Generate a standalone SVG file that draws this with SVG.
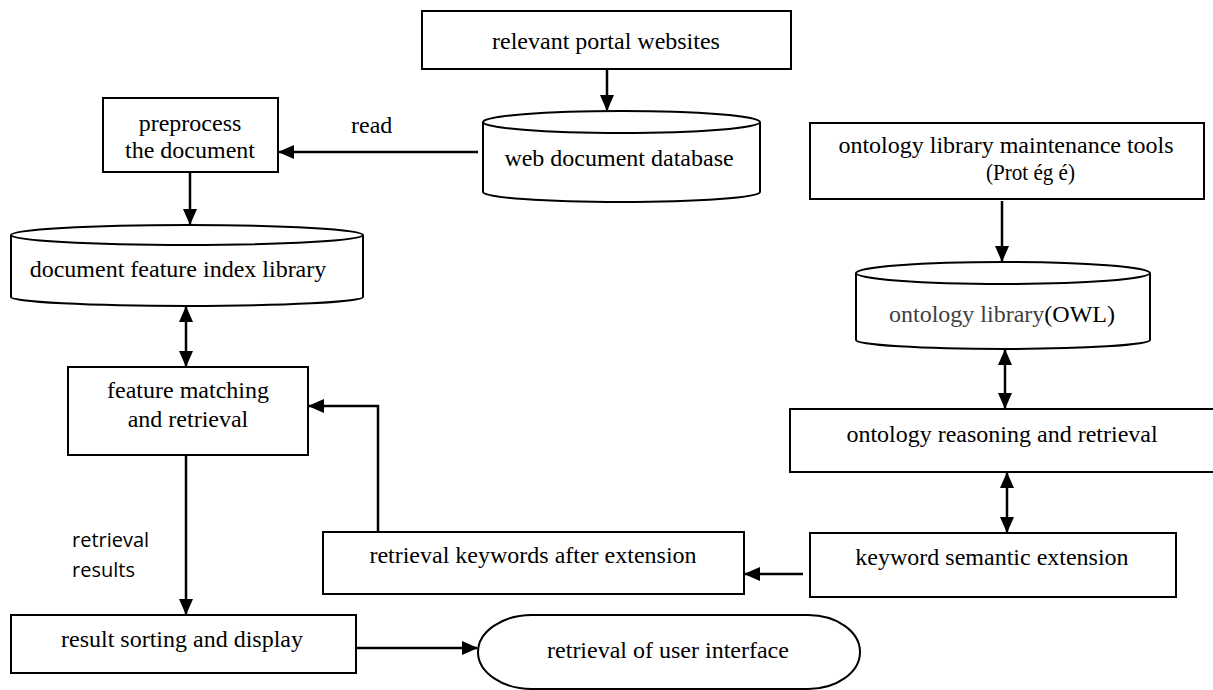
<svg xmlns="http://www.w3.org/2000/svg" width="1213" height="690" viewBox="0 0 1213 690">
<style>
.box{fill:#fff;stroke:#000;stroke-width:2}
.t{font-family:"Liberation Serif","Times New Roman",serif;font-size:24px;fill:#000}
.c{text-anchor:middle}
.s{font-family:"Open Sans","Liberation Sans",sans-serif;font-size:20px;fill:#000}
.ln{fill:none;stroke:#000;stroke-width:2.5}
</style>
<defs>
<marker id="ah" viewBox="0 0 16 14" refX="15" refY="7" markerWidth="16" markerHeight="14" markerUnits="userSpaceOnUse" orient="auto-start-reverse">
<path d="M0,0 L16,7 L0,14 Z" fill="#000"/>
</marker>
</defs>
<rect width="1213" height="690" fill="#fff"/>

<g id="connectors">
<line class="ln" x1="607" y1="69" x2="607" y2="110" marker-end="url(#ah)"/>
<line class="ln" x1="478" y1="152" x2="279" y2="152" marker-end="url(#ah)"/>
<line class="ln" x1="190" y1="172" x2="190" y2="224" marker-end="url(#ah)"/>
<line class="ln" x1="186" y1="307" x2="186" y2="366" marker-start="url(#ah)" marker-end="url(#ah)"/>
<line class="ln" x1="186" y1="455" x2="186" y2="614" marker-end="url(#ah)"/>
<line class="ln" x1="356" y1="648" x2="477" y2="648" marker-end="url(#ah)"/>
<path class="ln" d="M378,532 V406 H309" marker-end="url(#ah)"/>
<line class="ln" x1="1002" y1="201" x2="1002" y2="261" marker-end="url(#ah)"/>
<line class="ln" x1="1005" y1="350" x2="1005" y2="408" marker-start="url(#ah)" marker-end="url(#ah)"/>
<line class="ln" x1="1007" y1="473" x2="1007" y2="532" marker-start="url(#ah)" marker-end="url(#ah)"/>
<line class="ln" x1="803" y1="574" x2="745" y2="574" marker-end="url(#ah)"/>
</g>

<g id="n-portal">
<rect class="box" x="422" y="11" width="369" height="58"/>
<text class="t c" x="606" y="49">relevant portal websites</text>
</g>

<g id="n-webdb">
<path class="box" d="M483,122 L483,192 A138.5,10 0 0 0 760,192 L760,122"/>
<ellipse class="box" cx="621.5" cy="122" rx="138.5" ry="11"/>
<text class="t c" x="619" y="166">web document database</text>
</g>

<g id="n-read">
<text class="t" x="351" y="133">read</text>
</g>

<g id="n-preprocess">
<rect class="box" x="103" y="98" width="175" height="74"/>
<text class="t c" x="190" y="131">preprocess</text>
<text class="t c" x="190" y="158">the document</text>
</g>

<g id="n-docindex">
<path class="box" d="M11,235 L11,297 A176,9 0 0 0 363,297 L363,235"/>
<ellipse class="box" cx="187" cy="235" rx="176" ry="10"/>
<text class="t c" x="178" y="277">document feature index library</text>
</g>

<g id="n-matching">
<rect class="box" x="68" y="367" width="240" height="88"/>
<text class="t c" x="188" y="398">feature matching</text>
<text class="t c" x="188" y="427">and retrieval</text>
</g>

<g id="n-results-label">
<text class="s" x="72" y="547">retrieval</text>
<text class="s" x="72" y="577">results</text>
</g>

<g id="n-sorting">
<rect class="box" x="11" y="615" width="345" height="58"/>
<text class="t c" x="182" y="647">result sorting and display</text>
</g>

<g id="n-ui">
<path class="box" d="M532,615 L808,615 A52,37 0 0 1 808,689 L532,689 A54,37 0 0 1 532,615 Z"/>
<text class="t c" x="668" y="658">retrieval of user interface</text>
</g>

<g id="n-keywords">
<rect class="box" x="323" y="532" width="421" height="62"/>
<text class="t c" x="533" y="563">retrieval keywords after extension</text>
</g>

<g id="n-maintenance">
<rect class="box" x="810" y="123" width="394" height="76"/>
<text class="t c" x="1006" y="153">ontology library maintenance tools</text>
<text class="t" x="986" y="180" textLength="89" lengthAdjust="spacingAndGlyphs">(Prot ég é)</text>
</g>

<g id="n-owl">
<path class="box" d="M856,273 L856,340 A147,9 0 0 0 1150,340 L1150,273"/>
<ellipse class="box" cx="1003" cy="273" rx="147" ry="11"/>
<text class="t c" x="1002" y="322"><tspan fill="#404040">ontology library</tspan>(OWL)</text>
</g>

<g id="n-reasoning">
<rect class="box" x="790" y="409" width="426" height="63"/>
<text class="t c" x="1002" y="442">ontology reasoning and retrieval</text>
</g>

<g id="n-semantic">
<rect class="box" x="810" y="533" width="366" height="64"/>
<text class="t c" x="992" y="565">keyword semantic extension</text>
</g>
</svg>
